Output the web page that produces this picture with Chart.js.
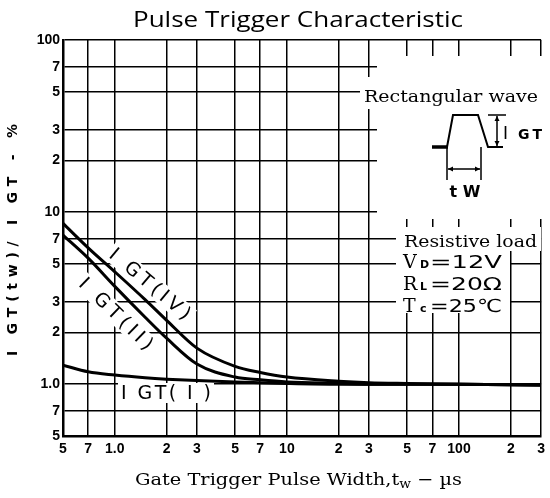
<!DOCTYPE html>
<html>
<head>
<meta charset="utf-8">
<script src="https://cdn.jsdelivr.net/npm/chart.js@4.4.0/dist/chart.umd.min.js"></script>
<style>
html, body { margin: 0; padding: 0; background: #fff; }
canvas { display: block; }
</style>
</head>
<body>
<canvas id="pulseChart" width="550" height="498"></canvas>
<script>
// pulse width t_w (us) and I_GT(tw)/I_GT ratio
const pulseWidths = [0.5, 0.7, 1, 1.5, 2, 3, 5, 7, 10, 20, 30, 50, 100, 300];
const igtIV = [8.6, 6.2, 4.5, 3.1, 2.35, 1.62, 1.27, 1.17, 1.10, 1.04, 1.02, 1.01, 1.0, 0.99];
const igtII = [7.35, 5.4, 3.7, 2.45, 1.85, 1.31, 1.10, 1.06, 1.03, 1.01, 1.0, 1.0, 1.0, 0.99];
const igtI = [1.29, 1.18, 1.13, 1.09, 1.07, 1.05, 1.03, 1.02, 1.01, 1.0, 1.0, 1.0, 1.0, 0.99];

const xTickValues = [0.5, 0.7, 1, 2, 3, 5, 7, 10, 20, 30, 50, 70, 100, 200, 300];
const xTickLabels = ['5', '7', '1.0', '2', '3', '5', '7', '10', '2', '3', '5', '7', '100', '2', '3'];
const yTickValues = [0.5, 0.7, 1, 2, 3, 5, 7, 10, 20, 30, 50, 70, 100];
const yTickLabels = ['5', '7', '1.0', '2', '3', '5', '7', '10', '2', '3', '5', '7', '100'];

// white patches where the original sheet blanks out the grid behind notes
const whitePatches = [
    [360, 77, 181, 32],
    [377, 56, 167, 163],
    [396, 227, 145, 24],
    [396, 251, 114, 62]
];
const curveNotes = [
    { text: 'I GT(IV)', cx: 150, cy: 284, angle: 40, width: 100 },
    { text: 'I GT(II)', cx: 116, cy: 314, angle: 44, width: 95 },
    { text: 'I GT( I )', cx: 166, cy: 393, angle: 0, width: 90 }
];

function pairs(values) { return pulseWidths.map((t, i) => ({ x: t, y: values[i] })); }

// draw text squeezed or stretched to a given width, anchored left
function fitText(ctx, text, x, y, width) {
    const w = ctx.measureText(text).width;
    ctx.save();
    ctx.translate(x, y);
    ctx.scale(width / w, 1);
    ctx.textAlign = 'left';
    ctx.fillText(text, 0, 0);
    ctx.restore();
}

// draw text centred on x, letters spread to the given width
function spacedText(ctx, text, x, y, width) {
    const chars = [...text];
    const natural = chars.reduce((s, c) => s + ctx.measureText(c).width, 0);
    const gap = chars.length > 1 ? (width - natural) / (chars.length - 1) : 0;
    let cx = x - width / 2;
    ctx.textAlign = 'left';
    chars.forEach(c => { ctx.fillText(c, cx, y); cx += ctx.measureText(c).width + gap; });
}

function arrowHead(ctx, x, y, dx, dy) {
    ctx.beginPath();
    ctx.moveTo(x, y);
    ctx.lineTo(x - dx * 5 - dy * 2.5, y - dy * 5 - dx * 2.5);
    ctx.lineTo(x - dx * 5 + dy * 2.5, y - dy * 5 + dx * 2.5);
    ctx.closePath();
    ctx.fill();
}

const notesPlugin = {
    id: 'notes',
    beforeDatasetsDraw(chart) {
        const ctx = chart.ctx;
        ctx.save();
        ctx.fillStyle = '#fff';
        whitePatches.forEach(([x, y, w, h]) => ctx.fillRect(x, y, w, h));
        curveNotes.forEach(n => {
            ctx.save();
            ctx.translate(n.cx, n.cy);
            ctx.rotate(n.angle * Math.PI / 180);
            ctx.fillRect(-n.width / 2 - 3, -10, n.width + 6, 20);
            ctx.restore();
        });
        ctx.restore();
    },
    afterDatasetsDraw(chart) {
        const ctx = chart.ctx;
        ctx.save();
        ctx.fillStyle = '#000';
        ctx.strokeStyle = '#000';

        // curve names
        ctx.font = '19px "DejaVu Sans"';
        ctx.textBaseline = 'middle';
        curveNotes.forEach(n => {
            ctx.save();
            ctx.translate(n.cx, n.cy);
            ctx.rotate(n.angle * Math.PI / 180);
            spacedText(ctx, n.text, 0, 1, n.width);
            ctx.restore();
        });

        // title
        ctx.textBaseline = 'alphabetic';
        ctx.font = '21px "Open Sans"';
        fitText(ctx, 'Pulse Trigger Characteristic', 133, 27, 330);

        // x axis title with subscript w
        ctx.font = '17px "DejaVu Serif"';
        const part1 = 'Gate Trigger Pulse Width,t', part3 = ' \u2212 \u00b5s';
        const w1 = ctx.measureText(part1).width, w3 = ctx.measureText(part3).width;
        ctx.font = '12px "DejaVu Serif"';
        const w2 = ctx.measureText('w').width;
        const sx = 327 / (w1 + w2 + w3);
        ctx.save();
        ctx.translate(135, 485);
        ctx.scale(sx, 1);
        ctx.textAlign = 'left';
        ctx.font = '17px "DejaVu Serif"';
        ctx.fillText(part1, 0, 0);
        ctx.font = '12px "DejaVu Serif"';
        ctx.fillText('w', w1, 3);
        ctx.font = '17px "DejaVu Serif"';
        ctx.fillText(part3, w1 + w2, 0);
        ctx.restore();

        // y axis title
        ctx.save();
        ctx.translate(13, 240);
        ctx.rotate(-Math.PI / 2);
        ctx.font = 'bold 14px "DejaVu Sans"';
        ctx.textBaseline = 'middle';
        spacedText(ctx, 'I GT(tw)/ I GT - %', 0, 0, 232);
        ctx.restore();

        // conditions notes
        ctx.textBaseline = 'alphabetic';
        ctx.font = '17px "DejaVu Serif"';
        fitText(ctx, 'Rectangular wave', 364, 102, 174);
        fitText(ctx, 'Resistive load', 404, 247, 133);
        const condLines = [['V', 'D', '=12V', 268], ['R', 'L', '=20\u03a9', 290], ['T', 'c', '=25\u2103', 312]];
        condLines.forEach(([a, b, c, y]) => {
            ctx.font = '19px "DejaVu Serif"';
            ctx.textAlign = 'left';
            ctx.fillText(a, 403, y);
            ctx.font = 'bold 11px "DejaVu Sans"';
            ctx.fillText(b, 420, y);
            ctx.font = '18px "DejaVu Sans"';
            fitText(ctx, c, 430, y, 72);
        });

        // rectangular pulse sketch
        ctx.lineWidth = 2;
        ctx.beginPath();
        ctx.moveTo(447, 147); ctx.lineTo(453, 115); ctx.lineTo(478, 115);
        ctx.lineTo(488, 147); ctx.lineTo(503, 147);
        ctx.stroke();
        ctx.lineWidth = 3.5;
        ctx.beginPath(); ctx.moveTo(432, 147); ctx.lineTo(448, 147); ctx.stroke();
        ctx.lineWidth = 1.5;
        ctx.beginPath();
        ctx.moveTo(447, 147); ctx.lineTo(447, 180);
        ctx.moveTo(481, 147); ctx.lineTo(481, 180);
        ctx.moveTo(448, 169); ctx.lineTo(480, 169);
        ctx.moveTo(488, 115); ctx.lineTo(506, 115);
        ctx.moveTo(497, 116); ctx.lineTo(497, 146);
        ctx.stroke();
        arrowHead(ctx, 448, 169, -1, 0);
        arrowHead(ctx, 480, 169, 1, 0);
        arrowHead(ctx, 497, 116, 0, -1);
        arrowHead(ctx, 497, 146, 0, 1);
        ctx.font = 'bold 16px "DejaVu Sans"';
        ctx.textBaseline = 'middle';
        ctx.textAlign = 'center';
        ctx.fillText('t W', 465, 193);
        ctx.textAlign = 'left';
        ctx.font = '17px "DejaVu Sans"';
        ctx.fillText('I', 503, 135);
        ctx.font = 'bold 14px "DejaVu Sans"';
        spacedText(ctx, 'GT', 530, 135, 24);
        ctx.restore();
    }
};

const tickFont = { family: '"Liberation Sans"', weight: 'bold', size: 14 };

new Chart(document.getElementById('pulseChart'), {
    type: 'line',
    data: {
        datasets: [
            { label: 'IGT(IV)', data: pairs(igtIV) },
            { label: 'IGT(II)', data: pairs(igtII) },
            { label: 'IGT(I)', data: pairs(igtI) }
        ]
    },
    options: {
        responsive: false,
        animation: false,
        devicePixelRatio: 1,
        layout: { padding: { top: 40, right: 4, left: 0, bottom: 0 } },
        elements: {
            point: { radius: 0 },
            line: { borderColor: '#000', borderWidth: 3, cubicInterpolationMode: 'monotone' }
        },
        plugins: { legend: { display: false }, tooltip: { enabled: false } },
        scales: {
            x: {
                type: 'logarithmic',
                min: 0.5,
                max: 300,
                afterBuildTicks: s => { s.ticks = xTickValues.map(v => ({ value: v })); },
                afterFit: s => { s.height = 62; },
                grid: { color: '#000', lineWidth: 1.5, drawTicks: false },
                border: { color: '#000', width: 2.5 },
                ticks: {
                    autoSkip: false, maxRotation: 0, padding: 5, color: '#000', font: tickFont,
                    callback: (v, i) => xTickLabels[i]
                }
            },
            y: {
                type: 'logarithmic',
                min: 0.5,
                max: 100,
                afterBuildTicks: s => { s.ticks = yTickValues.map(v => ({ value: v })); },
                afterFit: s => { s.width = 63; },
                grid: { color: '#000', lineWidth: 1.5, drawTicks: false },
                border: { color: '#000', width: 2.5 },
                ticks: {
                    autoSkip: false, padding: 3, color: '#000', font: tickFont,
                    callback: (v, i) => yTickLabels[i]
                }
            }
        }
    },
    plugins: [notesPlugin]
});
</script>
</body>
</html>
